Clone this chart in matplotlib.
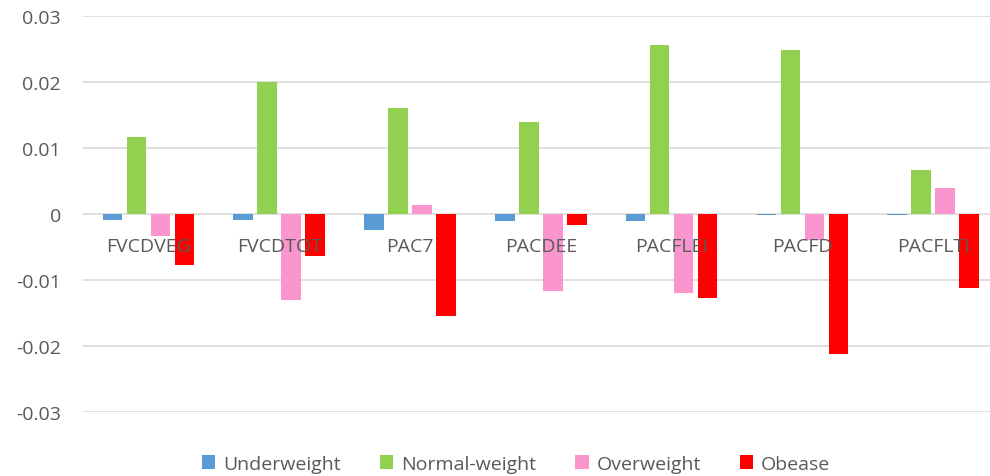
import numpy as np
import matplotlib.pyplot as plt

categories = ['FVCDVEG', 'FVCDTOT', 'PAC7', 'PACDEE', 'PACFLEI', 'PACFD', 'PACFLTI']
underweight = [-0.0009, -0.0009, -0.0024, -0.0011, -0.0011, -0.0001, -0.0001]
normal_weight = [0.0116, 0.0200, 0.0161, 0.0140, 0.0256, 0.0248, 0.0066]
overweight = [-0.0034, -0.0131, 0.0013, -0.0116, -0.0119, -0.0039, 0.0040]
obease = [-0.0077, -0.0064, -0.0154, -0.0017, -0.0127, -0.0212, -0.0112]

series = [('Underweight', underweight, '#5B9BD5'),
          ('Normal-weight', normal_weight, '#92D050'),
          ('Overweight', overweight, '#FA96CD'),
          ('Obease', obease, '#FF0000')]

plt.rcParams['font.family'] = ['Open Sans', 'DejaVu Sans']
text_col = '#595959'

fig = plt.figure(figsize=(9.9, 4.77), dpi=100)
ax = fig.add_axes([83/990, 64/477, 907/990, 396/477])

x = np.arange(len(categories))
step = 0.1835
width = 0.15
for i, (name, vals, col) in enumerate(series):
    ax.bar(x + (i - 1.5) * step, vals, width, color=col, label=name, zorder=3)

ax.set_ylim(-0.03, 0.03)
ax.set_xlim(-0.5, 6.434)
ax.set_yticks([-0.03, -0.02, -0.01, 0, 0.01, 0.02, 0.03])
ax.set_yticklabels(['-0.03', '-0.02', '-0.01', '0', '0.01', '0.02', '0.03'])
ax.grid(axis='y', color='#D9D9D9', linewidth=1.2, zorder=0)
for s in ax.spines.values():
    s.set_visible(False)
ax.set_xticks([])
ax.tick_params(axis='y', length=0, pad=16, labelsize=14, labelcolor=text_col)

# category labels sit on top of the bars, just under the zero line
for xi, cat in zip(x, categories):
    ax.annotate(cat, xy=(xi, 0), xytext=(0, -23), textcoords='offset points',
                ha='center', va='center', fontsize=14, color=text_col, zorder=6)

fig.legend(loc='center', bbox_to_anchor=(516/990, 1 - 465/477), ncol=4,
           frameon=False, fontsize=14, labelcolor=text_col,
           handlelength=0.7, handleheight=0.7, handletextpad=0.4, columnspacing=2.0)

fig.savefig('out.png', dpi=100)
